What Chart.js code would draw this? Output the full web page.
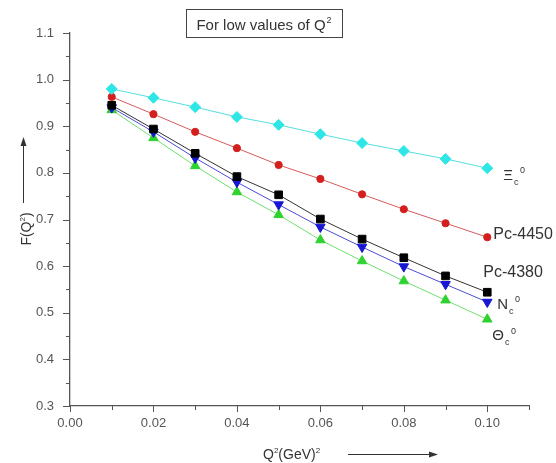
<!DOCTYPE html>
<html>
<head>
<meta charset="utf-8">
<title>For low values of Q2</title>
<script src="https://cdn.jsdelivr.net/npm/chart.js@4.4.0/dist/chart.umd.min.js"></script>
<style>
  html, body { margin: 0; padding: 0; background: #fff; }
  #wrap { position: relative; width: 556px; height: 463px; }
</style>
</head>
<body>
<div id="wrap"><canvas id="chart" width="556" height="463"></canvas></div>
<script>
// Q^2 values (GeV^2)
var q2 = [0.01, 0.02, 0.03, 0.04, 0.05, 0.06, 0.07, 0.08, 0.09, 0.10];

// F(Q^2)
var xiC    = [0.980, 0.961, 0.941, 0.920, 0.903, 0.883, 0.864, 0.847, 0.830, 0.810];
var pc4450 = [0.963, 0.926, 0.888, 0.853, 0.817, 0.787, 0.754, 0.722, 0.692, 0.662];
var pc4380 = [0.945, 0.894, 0.842, 0.792, 0.753, 0.701, 0.658, 0.618, 0.579, 0.544];
var nC     = [0.940, 0.888, 0.832, 0.780, 0.732, 0.684, 0.641, 0.599, 0.561, 0.523];
var thetaC = [0.935, 0.875, 0.815, 0.759, 0.710, 0.656, 0.611, 0.568, 0.527, 0.486];

// axis ticks
var xMajor = [0.00, 0.02, 0.04, 0.06, 0.08, 0.10];
var xMinor = [0.01, 0.03, 0.05, 0.07, 0.09, 0.11];
var yMajor = [0.3, 0.4, 0.5, 0.6, 0.7, 0.8, 0.9, 1.0, 1.1];
var yMinor = [0.35, 0.45, 0.55, 0.65, 0.75, 0.85, 0.95, 1.05];

var FONT = "'Liberation Sans', Arial, sans-serif";

function toPoints(ys) {
  var pts = [];
  for (var i = 0; i < q2.length; i++) {
    pts.push({ x: q2[i], y: ys[i] });
  }
  return pts;
}

function isMajor(list, v) {
  for (var i = 0; i < list.length; i++) {
    if (Math.abs(list[i] - v) < 1e-6) return true;
  }
  return false;
}

function setTicks(list1, list2) {
  return function(scale) {
    var all = list1.concat(list2).sort(function(a, b) { return a - b; });
    scale.ticks = all.map(function(v) { return { value: v }; });
  };
}

// draws text made of parts, some raised or lowered
function drawRich(ctx, parts, x, y, size, color) {
  var cx = x;
  ctx.fillStyle = color;
  ctx.textAlign = 'left';
  ctx.textBaseline = 'alphabetic';
  for (var i = 0; i < parts.length; i++) {
    var p = parts[i];
    var s = (p.sup || p.sub) ? Math.round(size * 0.6) : size;
    var dy = p.sup ? -size * 0.45 : (p.sub ? size * 0.3 : 0);
    cx += p.dx || 0;
    ctx.font = s + 'px ' + FONT;
    ctx.fillText(p.t, cx, y + dy);
    if (!p.keep) cx += ctx.measureText(p.t).width;
  }
  return cx - x;
}

function richWidth(ctx, parts, size) {
  var w = 0;
  for (var i = 0; i < parts.length; i++) {
    var p = parts[i];
    var s = (p.sup || p.sub) ? Math.round(size * 0.6) : size;
    ctx.font = s + 'px ' + FONT;
    w += p.dx || 0;
    if (!p.keep) w += ctx.measureText(p.t).width;
  }
  return w;
}

function arrowHead(ctx, x, y, dir) {
  // dir: 'up' or 'right'
  ctx.beginPath();
  if (dir === 'up') {
    ctx.moveTo(x, y);
    ctx.lineTo(x - 3, y + 9);
    ctx.lineTo(x + 3, y + 9);
  } else {
    ctx.moveTo(x, y);
    ctx.lineTo(x - 9, y - 3);
    ctx.lineTo(x - 9, y + 3);
  }
  ctx.closePath();
  ctx.fill();
}

// series labels placed next to the last point of each curve
var seriesLabels = [
  { ds: 0, dx: 16, dy: 12, size: 15, parts: [{ t: '\u039E' }, { t: 'c', sub: true, keep: true, dx: 1 }, { t: '0', sup: true, dx: 6 }] },
  { ds: 1, dx: 6, dy: 2, size: 16, parts: [{ t: 'Pc-4450' }] },
  { ds: 2, dx: -4, dy: -15, size: 16, parts: [{ t: 'Pc-4380' }] },
  { ds: 3, dx: 10, dy: 7, size: 15, parts: [{ t: 'N' }, { t: 'c', sub: true, keep: true, dx: 1 }, { t: '0', sup: true, dx: 6 }] },
  { ds: 4, dx: 5, dy: 21, size: 15, parts: [{ t: '\u0398' }, { t: 'c', sub: true, keep: true, dx: 1 }, { t: '0', sup: true, dx: 6 }] }
];

var overlayPlugin = {
  id: 'overlay',
  afterDraw: function(chart) {
    var ctx = chart.ctx;
    var xs = chart.scales.x;
    var ys = chart.scales.y;
    var area = chart.chartArea;
    ctx.save();

    // outward ticks, long for major, short for minor
    ctx.strokeStyle = '#555';
    ctx.lineWidth = 1;
    ctx.beginPath();
    xMajor.concat(xMinor).forEach(function(v) {
      var px = Math.round(xs.getPixelForValue(v)) + 0.5;
      var len = isMajor(xMajor, v) ? 6 : 4;
      ctx.moveTo(px, area.bottom);
      ctx.lineTo(px, area.bottom + len);
    });
    yMajor.concat(yMinor).forEach(function(v) {
      var py = Math.round(ys.getPixelForValue(v)) + 0.5;
      var len = isMajor(yMajor, v) ? 7 : 4;
      ctx.moveTo(area.left, py);
      ctx.lineTo(area.left - len, py);
    });
    ctx.stroke();

    // title box
    var tParts = [{ t: 'For low values of Q' }, { t: '2', sup: true, dx: 1 }];
    var tw = richWidth(ctx, tParts, 15);
    ctx.strokeStyle = '#444';
    ctx.strokeRect(186.5, 9.5, 156, 28);
    drawRich(ctx, tParts, 264 - tw / 2, 30, 15, '#333');

    // y axis title, rotated, with arrow
    var yParts = [{ t: 'F(Q' }, { t: '2', sup: true }, { t: ')' }];
    ctx.save();
    ctx.translate(31, 229);
    ctx.rotate(-Math.PI / 2);
    var yw = richWidth(ctx, yParts, 14);
    drawRich(ctx, yParts, -yw / 2, 0, 14, '#333');
    ctx.restore();
    ctx.strokeStyle = '#333';
    ctx.fillStyle = '#333';
    ctx.beginPath();
    ctx.moveTo(23.5, 203);
    ctx.lineTo(23.5, 144);
    ctx.stroke();
    arrowHead(ctx, 23.5, 137, 'up');

    // x axis title with arrow
    var xParts = [{ t: 'Q' }, { t: '2', sup: true }, { t: '(GeV)' }, { t: '2', sup: true }];
    drawRich(ctx, xParts, 263, 459, 14, '#333');
    ctx.strokeStyle = '#333';
    ctx.fillStyle = '#333';
    ctx.beginPath();
    ctx.moveTo(348, 454.5);
    ctx.lineTo(430, 454.5);
    ctx.stroke();
    arrowHead(ctx, 438, 454.5, 'right');

    // curve labels
    seriesLabels.forEach(function(l) {
      var pts = chart.getDatasetMeta(l.ds).data;
      var last = pts[pts.length - 1];
      drawRich(ctx, l.parts, last.x + l.dx, last.y + l.dy, l.size, '#333');
    });

    ctx.restore();
  }
};

function series(label, ys, lineColor, pointColor, style, radius, rotation) {
  return {
    label: label,
    data: toPoints(ys),
    showLine: true,
    borderColor: lineColor,
    borderWidth: 1,
    backgroundColor: pointColor,
    pointBackgroundColor: pointColor,
    pointBorderColor: pointColor,
    pointBorderWidth: 1,
    pointStyle: style,
    pointRadius: radius,
    pointRotation: rotation || 0,
    tension: 0
  };
}

var ctx = document.getElementById('chart');
var chart = new Chart(ctx, {
  type: 'scatter',
  data: {
    datasets: [
      series('\u039Ec0', xiC, '#55dede', '#2ee6e6', 'rectRot', 5.5),
      series('Pc-4450', pc4450, '#d85a5a', '#d41f1f', 'circle', 3.6),
      series('Pc-4380', pc4380, '#333333', '#000000', 'rect', 5.4),
      series('Nc0', nC, '#4b4bd6', '#1616d4', 'triangle', 5.5, 180),
      series('\u0398c0', thetaC, '#6fe06f', '#2fd22f', 'triangle', 5.5)
    ]
  },
  options: {
    responsive: false,
    animation: false,
    devicePixelRatio: 1,
    layout: { padding: { top: 33, right: 27, left: 0, bottom: 0 } },
    plugins: {
      legend: { display: false },
      tooltip: { enabled: false },
      title: { display: false }
    },
    scales: {
      x: {
        type: 'linear',
        min: 0,
        max: 0.11,
        afterBuildTicks: setTicks(xMajor, xMinor),
        afterFit: function(scale) { scale.height = 57; },
        grid: { drawOnChartArea: false, drawTicks: true, tickLength: 6, tickColor: 'rgba(0,0,0,0)' },
        border: { display: true, color: '#555', width: 1.3 },
        ticks: {
          autoSkip: false,
          maxRotation: 0,
          padding: 4,
          color: '#555',
          font: { family: FONT, size: 13 },
          callback: function(v) { return isMajor(xMajor, v) ? v.toFixed(2) : ''; }
        }
      },
      y: {
        type: 'linear',
        min: 0.3,
        max: 1.1,
        afterBuildTicks: setTicks(yMajor, yMinor),
        afterFit: function(scale) { scale.width = 70; },
        grid: { drawOnChartArea: false, drawTicks: true, tickLength: 7, tickColor: 'rgba(0,0,0,0)' },
        border: { display: true, color: '#555', width: 1.3 },
        ticks: {
          autoSkip: false,
          padding: 9,
          color: '#555',
          font: { family: FONT, size: 13 },
          callback: function(v) { return isMajor(yMajor, v) ? v.toFixed(1) : ''; }
        }
      }
    }
  },
  plugins: [overlayPlugin]
});
</script>
</body>
</html>
